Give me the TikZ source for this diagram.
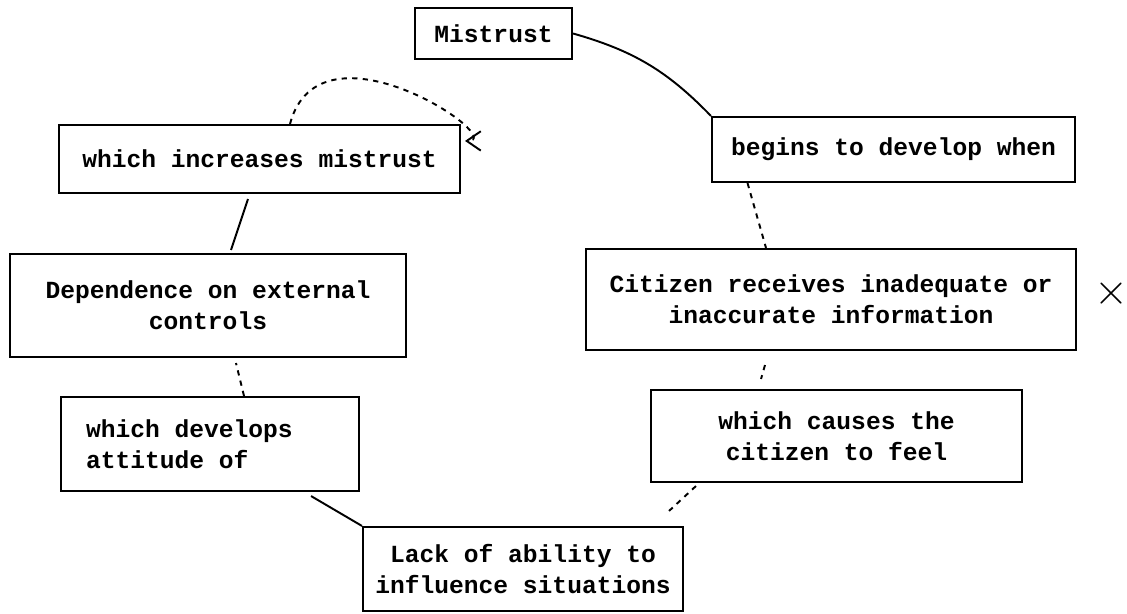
\documentclass[tikz,border=0pt]{standalone}
\usepackage{fontspec}
\setmainfont{Liberation Mono}
\usetikzlibrary{arrows, arrows.meta, positioning}

\tikzset{
  box/.style={draw, line width=1.2pt, inner sep=0pt, align=center, font=\fontsize{14}{17.5}\selectfont\bfseries},
  link/.style={line width=1.1pt},
}

\begin{document}
\begin{tikzpicture}[x=0.02cm, y=-0.02cm]
    \useasboundingbox (0,0) rectangle (1127,614);

    \node[box, minimum width=3.14cm, minimum height=1.02cm] (mis) at (493.5, 33.5) {Mistrust};
    \node[box, minimum width=7.26cm, minimum height=1.3cm] (beg) at (893.5, 149.5) {begins to develop when};
    \node[box, minimum width=9.8cm, minimum height=2.02cm] (cit) at (831, 299.5) {Citizen receives inadequate or\\inaccurate information};
    \node[box, minimum width=7.42cm, minimum height=1.84cm] (cau) at (836.5, 436) {which causes the\\citizen to feel};
    \node[box, minimum width=6.4cm, minimum height=1.68cm] (lack) at (523, 569) {Lack of ability to\\influence situations};
    \node[box, minimum width=5.96cm, minimum height=1.88cm, text width=4.96cm, align=flush left] (dev) at (210, 444) {which develops\\attitude of};
    \node[box, minimum width=7.92cm, minimum height=2.06cm] (dep) at (208, 305.5) {Dependence on external\\controls};
    \node[box, minimum width=8.02cm, minimum height=1.36cm] (inc) at (259.5, 159) {which increases mistrust};
    \node[font=\Huge] (cross) at (1111, 294) {$\times$};

    \draw[link] (mis.east) to[bend left=15] (beg.north west);
    \draw[link, dashed] ([xshift=-2.92cm]beg.south) -- ([xshift=-1.3cm]cit.north);
    \draw[link, dashed] ([xshift=-1.32cm, yshift=-0.28cm]cit.south) -- ([xshift=-1.51cm, yshift=0.2cm]cau.north);
    \draw[link, dashed] ([xshift=0.92cm, yshift=-0.06cm]cau.south west) -- ([xshift=-0.3cm, yshift=0.3cm]lack.north east);
    \draw[link] (lack.north west) -- ([xshift=-0.98cm, yshift=-0.08cm]dev.south east);
    \draw[link, dashed] ([xshift=0.68cm]dev.north) -- ([xshift=0.56cm, yshift=-0.1cm]dep.south);
    \draw[link] ([xshift=0.46cm, yshift=0.06cm]dep.north) -- ([xshift=-0.23cm, yshift=-0.1cm]inc.south);
    \draw[link, dashed, -{Straight Barb[length=8pt, width=11pt]}] ([xshift=0.61cm]inc.north) .. controls +(30, -112) and +(45, 0) .. ([xshift=0.08cm, yshift=-0.34cm]inc.north east);
\end{tikzpicture}
\end{document}
